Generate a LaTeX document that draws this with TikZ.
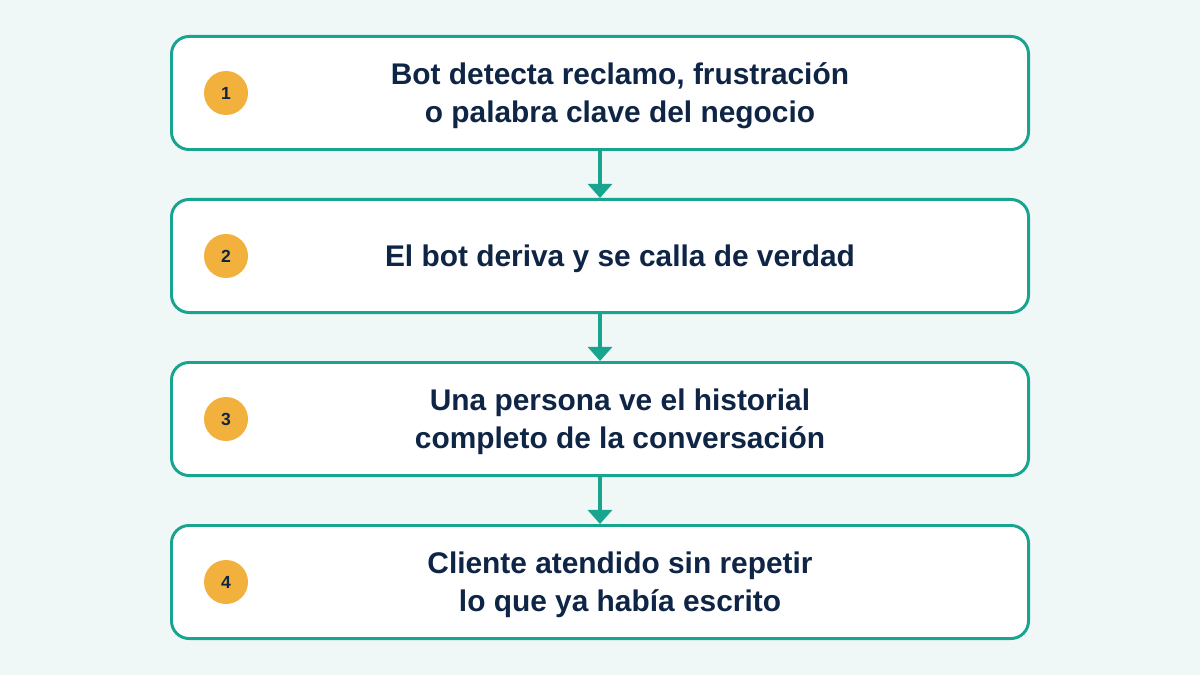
\documentclass[tikz,border=0pt]{standalone}
\usepackage{fontspec}
\setmainfont{Liberation Sans}
\usetikzlibrary{arrows.meta}
\definecolor{bg}{HTML}{F0F7F7}
\definecolor{teal}{HTML}{17A590}
\definecolor{navy}{HTML}{0F2545}
\definecolor{orng}{HTML}{F2B03C}
\begin{document}
\begin{tikzpicture}[x=0.05cm,y=-0.05cm,
 box/.style={draw=teal,line width=4.2pt,fill=white,rounded corners=25pt,minimum width=860*0.05cm-4.2pt,minimum height=116*0.05cm-4.2pt},
 num/.style={circle,fill=orng,minimum size=44*0.05cm,inner sep=0,text=navy,font=\fontsize{25pt}{30pt}\selectfont\bfseries},
 lbl/.style={text=navy,align=center,font=\fontsize{42.5pt}{54pt}\selectfont\bfseries},
 arr/.style={draw=teal,line width=5pt,-{Triangle[length=20pt,width=34pt]}}]
\fill[bg] (0,0) rectangle (1200,675);
\foreach \i/\y/\t in {1/93/{Bot detecta reclamo, frustración\\o palabra clave del negocio},2/256/{El bot deriva y se calla de verdad},3/419/{Una persona ve el historial\\completo de la conversación},4/582/{Cliente atendido sin repetir\\lo que ya había escrito}}{
 \node[box] (b\i) at (600,\y) {};
 \node[num] (n\i) at (226,\y) {\i};
 \node[lbl] (t\i) at (620,\y+3) {\t};
}
\draw[arr] (b1.south) -- (b2.north);
\draw[arr] (b2.south) -- (b3.north);
\draw[arr] (b3.south) -- (b4.north);
\end{tikzpicture}
\end{document}
